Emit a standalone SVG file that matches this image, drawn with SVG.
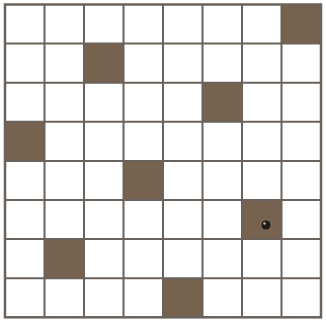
<svg xmlns="http://www.w3.org/2000/svg" width="326" height="325" viewBox="0 0 326 325">
<style>
.d{fill:#76624f}
.g{stroke:#6a625b;stroke-width:2;fill:none}
</style>
<rect width="326" height="325" fill="#ffffff"/>
<g id="dark">
<rect class="d" x="281.5" y="4.5" width="39.5" height="39.1"/>
<rect class="d" x="84" y="43.6" width="39.5" height="39.1"/>
<rect class="d" x="202.5" y="82.7" width="39.5" height="39.1"/>
<rect class="d" x="5" y="121.8" width="39.5" height="39.1"/>
<rect class="d" x="123.5" y="160.9" width="39.5" height="39.1"/>
<rect class="d" x="242" y="200" width="39.5" height="39.1"/>
<rect class="d" x="44.5" y="239.1" width="39.5" height="39.1"/>
<rect class="d" x="163" y="278.2" width="39.5" height="39.1"/>
</g>
<g id="dot">
<circle cx="266" cy="225" r="4.5" fill="#1e1a18"/>
<circle cx="264.5" cy="223.5" r="1.2" fill="#bbb"/>
</g>
<g id="grid" class="g">
<path d="M44.5 4.5V317.3M84 4.5V317.3M123.5 4.5V317.3M163 4.5V317.3M202.5 4.5V317.3M242 4.5V317.3M281.5 4.5V317.3"/>
<path d="M5 43.6H321M5 82.7H321M5 121.8H321M5 160.9H321M5 200H321M5 239.1H321M5 278.2H321"/>
<rect x="5" y="4.5" width="316" height="312.8" stroke-width="2.5"/>
</g>
</svg>
